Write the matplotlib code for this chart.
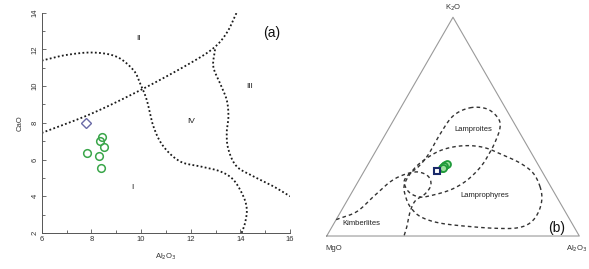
import numpy as np
import matplotlib
matplotlib.use("Agg")
import matplotlib.pyplot as plt
from matplotlib.ticker import MultipleLocator

plt.rcParams['font.family'] = ['Liberation Sans', 'DejaVu Sans']

# ---------------- Panel (a) data: CaO vs Al2O3 ----------------
al2o3_samples = [7.84, 8.44, 8.35, 8.52, 8.32, 8.39]
cao_samples = [6.36, 7.22, 7.03, 6.70, 6.19, 5.54]
al2o3_ref = [7.79]
cao_ref = [8.00]

# field boundaries (Al2O3, CaO)
b1_al = [6.0, 8.0, 10.0, 11.85, 12.9, 13.45, 13.85]
b1_ca = [7.45, 8.5, 9.8, 11.15, 12.05, 12.9, 14.0]
b2_al = [6.0, 7.0, 8.08, 9.02, 9.69, 9.96, 10.23, 10.5, 10.9, 11.57, 12.38, 13.18, 13.72, 14.12, 14.26, 14.19, 14.05]
b2_ca = [11.39, 11.7, 11.83, 11.6, 10.88, 10.16, 9.25, 7.8, 6.72, 5.9, 5.63, 5.36, 4.9, 4.0, 3.28, 2.55, 2.0]
b3_al = [12.98, 12.91, 13.18, 13.45, 13.52, 13.45, 13.52, 13.85, 14.52, 15.33, 16.0]
b3_ca = [12.0, 11.07, 10.16, 9.25, 8.35, 7.44, 6.54, 5.63, 5.09, 4.54, 4.0]

field_labels = ["I", "II", "III", "IV"]
field_al = [9.66, 9.89, 14.39, 12.0]
field_ca = [4.5, 12.6, 9.98, 8.07]

xticks_a = [6, 8, 10, 12, 14, 16]
yticks_a = [2, 4, 6, 8, 10, 12, 14]

# ---------------- Panel (b) data: ternary MgO-K2O-Al2O3 (wt%) ----------------
k2o_samples = [32.5, 30.9, 31.5, 32.9, 31.8, 31.3]
al_samples_b = [30.6, 30.0, 30.3, 31.0, 30.6, 30.2]
k2o_ref = [29.5]
al_ref_b = [29.1]

lamproite_k = [58.6, 58.1, 53.9, 49.4, 43.0, 37.5, 32.5, 27.9, 24.2, 21.0, 18.7, 17.8, 20.1, 24.7, 28.3, 31.5, 37.0, 46.6, 54.9]
lamproite_al = [27.4, 34.4, 40.9, 43.9, 45.2, 45.5, 45.3, 44.0, 41.9, 38.3, 32.7, 28.0, 22.5, 18.3, 18.4, 20.4, 21.6, 21.6, 22.6]

lamprophyre_k = [22.4, 28.8, 33.4, 37.0, 40.2, 41.3, 40.7, 38.4, 33.4, 28.3, 22.9, 17.4, 12.8, 8.7, 5.9, 4.3, 3.5, 3.7, 5.9, 10.5, 16.5]
lamprophyre_al = [73.3, 67.3, 59.8, 51.3, 43.0, 36.1, 29.7, 24.5, 20.3, 18.8, 19.2, 22.7, 27.0, 33.0, 41.9, 54.6, 65.7, 73.5, 77.5, 78.4, 76.9]

kimberlite_k = [7.5, 11.1, 18.0, 24.7, 27.9, 29.3, 27.4, 23.3, 19.2, 16.0, 11.0, 4.6, 0.0]
kimberlite_al = [0.0, 6.3, 9.5, 12.7, 16.3, 21.1, 26.4, 29.6, 29.3, 27.0, 27.5, 29.5, 30.6]


def smooth(x, y, n=16, closed=False):
    pts = np.column_stack([x, y]).astype(float)
    if closed:
        P = np.vstack([pts[-1], pts, pts[0], pts[1]])
    else:
        P = np.vstack([2 * pts[0] - pts[1], pts, 2 * pts[-1] - pts[-2]])
    out = []
    t = np.linspace(0, 1, n, endpoint=False)[:, None]
    for i in range(1, len(P) - 2):
        p0, p1, p2, p3 = P[i - 1], P[i], P[i + 1], P[i + 2]
        out.append(0.5 * ((2 * p1) + (-p0 + p2) * t + (2 * p0 - 5 * p1 + 4 * p2 - p3) * t ** 2
                          + (-p0 + 3 * p1 - 3 * p2 + p3) * t ** 3))
    out.append(P[-2][None])
    s = np.vstack(out)
    return s[:, 0], s[:, 1]


def tern(k, al):
    k = np.asarray(k, float) / 100.0
    al = np.asarray(al, float) / 100.0
    return al + k / 2.0, k * np.sqrt(3) / 2.0


fig = plt.figure(figsize=(5.89, 2.69), dpi=100)

# ---------------- Panel (a) ----------------
ax = fig.add_axes([0.0708, 0.1338, 0.4216, 0.819])
dot_kw = dict(color='#1a1a1a', lw=1.3, linestyle=(0, (1.0, 1.3)), dash_capstyle='butt')
for bxx, byy in [(b1_al, b1_ca), (b2_al, b2_ca), (b3_al, b3_ca)]:
    sx, sy = smooth(bxx, byy)
    ax.plot(sx, sy, **dot_kw)

ax.plot(al2o3_samples, cao_samples, 'o', ms=5.5, mfc='none', mec='#3aa64a', mew=1.1)
ax.plot(al2o3_ref, cao_ref, 'D', ms=5, mfc='none', mec='#6a6aa6', mew=1.0)

for lab, xx, yy in zip(field_labels, field_al, field_ca):
    ax.text(xx, yy, lab, fontsize=6, ha='center', va='center', color='#222222')
ax.text(15.26, 12.9, "(a)", fontsize=10, ha='center', va='center', color='#111111')

ax.set_xlim(6, 16)
ax.set_ylim(2, 14)
ax.set_xticks(xticks_a)
ax.set_yticks(yticks_a)
ax.xaxis.set_minor_locator(MultipleLocator(1))
ax.yaxis.set_minor_locator(MultipleLocator(1))
ax.tick_params(which='both', direction='in', colors='#555555', labelcolor='#333333', labelsize=5.5, width=0.6, pad=2)
ax.tick_params(which='major', length=3)
ax.tick_params(which='minor', length=2)
for lbl in ax.get_yticklabels():
    lbl.set_rotation(90)
    lbl.set_va('center')
for s in ['top', 'right']:
    ax.spines[s].set_visible(False)
for s in ['left', 'bottom']:
    ax.spines[s].set_color('#555555')
    ax.spines[s].set_linewidth(0.7)
ax.set_xlabel("Al$_2$O$_3$", fontsize=5.5, color='#333333', labelpad=6)
ax.set_ylabel("CaO", fontsize=5.5, color='#333333', labelpad=6)

# ---------------- Panel (b) ----------------
bx = fig.add_axes([300 / 589, 0, 289 / 589, 1])
bx.set_xlim(-0.1057, 1.0384)
bx.set_ylim(-0.1306, 0.9343)
bx.axis('off')

cu, cv = tern([0, 0, 100, 0], [0, 100, 0, 0])
bx.plot(cu, cv, color='#9a9a9a', lw=0.8)

dash_kw = dict(color='#333333', lw=1.0, linestyle=(0, (2.6, 2.2)))
for kk, aa, closed in [(lamproite_k, lamproite_al, True),
                       (lamprophyre_k, lamprophyre_al, True),
                       (kimberlite_k, kimberlite_al, False)]:
    u, v = tern(kk, aa)
    su, sv = smooth(u, v, closed=closed)
    bx.plot(su, sv, **dash_kw)

u, v = tern(k2o_samples, al_samples_b)
bx.plot(u, v, 'o', ms=5, mfc='#9be09b', mec='#1f9a3a', mew=1.3)
u, v = tern(k2o_ref, al_ref_b)
bx.plot(u, v, 's', ms=4.5, mfc='white', mec='#1a2a6a', mew=1.5)

bx.text(0.501, 0.905, "K$_2$O", fontsize=5.5, ha='center', va='center', color='#333333')
bx.text(0.026, -0.0487, "MgO", fontsize=5.5, ha='center', va='center', color='#333333')
bx.text(0.99, -0.0487, "Al$_2$O$_3$", fontsize=5.5, ha='center', va='center', color='#333333')
bx.text(0.580, 0.4197, "Lamproites", fontsize=5.5, ha='center', va='center', color='#222222')
bx.text(0.627, 0.162, "Lamprophyres", fontsize=5.5, ha='center', va='center', color='#222222')
bx.text(0.1386, 0.0503, "Kimberlites", fontsize=5.5, ha='center', va='center', color='#222222')
bx.text(0.911, 0.0305, "(b)", fontsize=10, ha='center', va='center', color='#111111')

fig.savefig("out.png", dpi=100)
